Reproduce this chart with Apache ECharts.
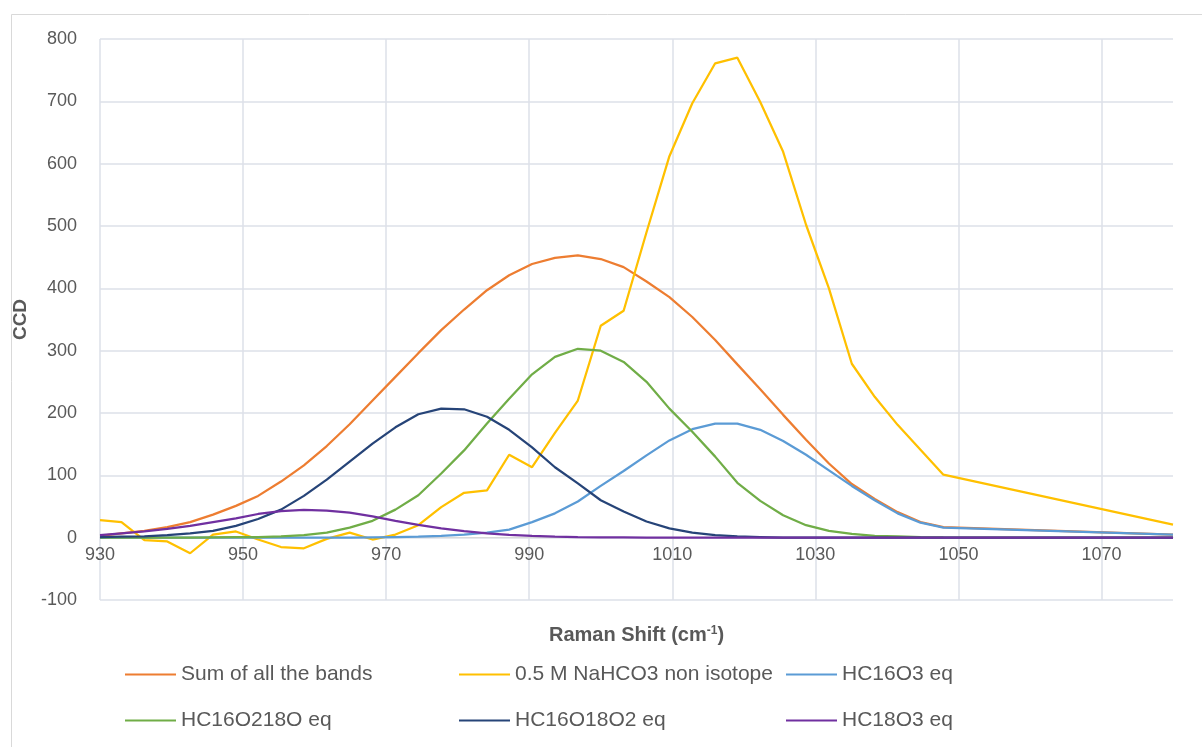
<!DOCTYPE html>
<html>
<head>
<meta charset="utf-8">
<script src="https://cdn.jsdelivr.net/npm/echarts@6/dist/echarts.min.js"></script>
<style>
html,body{margin:0;padding:0;background:#fff;}
#chart{width:1202px;height:747px;}
</style>
</head>
<body>
<div id="chart"></div>
<script>
const ramanShift = [930, 933.0, 936.2, 939.4, 942.6, 945.8, 949.0, 952.1, 955.3, 958.5, 961.7, 964.9, 968.1, 971.3, 974.5, 977.7, 980.9, 984.1, 987.2, 990.4, 993.6, 996.8, 1000.0, 1003.2, 1006.4, 1009.6, 1012.8, 1016.0, 1019.1, 1022.3, 1025.5, 1028.7, 1031.9, 1035.1, 1038.3, 1041.5, 1044.7, 1047.9, 1080];
const sumBands = [3, 7, 11, 17, 25, 37, 51, 67, 90, 116, 147, 182, 220, 258, 296, 333, 366, 397, 421, 439, 449, 453, 447, 434, 411, 386, 354, 317, 278, 238, 197, 157, 119, 86, 62, 41, 25, 17, 5];
const nahco3 = [28, 25, -4, -6, -25, 5, 10, -3, -15, -17, -2, 8, -3, 5, 20, 49, 72, 76, 133, 113, 168, 220, 340, 364, 490, 612, 697, 761, 770, 699, 619, 502, 400, 279, 226, 181, 141, 101, 21];
const hc16o3 = [0, 0, 0, 0, 0, 0, 0, 0, 0, 0, 0, 0, 0.5, 1, 1.5, 3, 5, 8, 13, 25, 39, 58, 83, 107, 132, 156, 174, 183, 183, 173, 155, 133, 108, 83, 60, 39, 24, 16, 5];
const hc16o218o = [0, 0, 0, 0, 0, 0.5, 1, 1, 2, 4, 8, 16, 27, 45, 68, 103, 140, 183, 223, 262, 290, 303, 300, 282, 250, 207, 170, 130, 88, 59, 36, 20, 11, 6, 3, 2, 1, 0.5, 0];
const hc16o18o2 = [1, 1.5, 2, 4, 7, 11, 19, 30, 45, 67, 93, 122, 151, 177, 198, 207, 206, 194, 173, 145, 113, 87, 60, 42, 26, 15, 8, 4, 2, 1, 0, 0, 0, 0, 0, 0, 0, 0, 0];
const hc18o3 = [4, 7, 10, 14, 19, 25, 31, 38, 42.5, 44.5, 43.5, 40, 34, 27, 20.5, 15, 10.6, 7, 4.5, 2.7, 1.6, 1, 0.5, 0.3, 0, 0, 0, 0, 0, 0, 0, 0, 0, 0, 0, 0, 0, 0, 0];

const xTicks = [930, 950, 970, 990, 1010, 1030, 1050, 1070];

const seriesNames = ['Sum of all the bands', '0.5 M NaHCO3 non isotope', 'HC16O3 eq', 'HC16O218O eq', 'HC16O18O2 eq', 'HC18O3 eq'];
const seriesValues = [sumBands, nahco3, hc16o3, hc16o218o, hc16o18o2, hc18o3];
const colors = ['#ED7D31', '#FFC000', '#5B9BD5', '#70AD47', '#264478', '#7030A0'];

const FONT = 'Liberation Sans, Arial, sans-serif';
const TXT = '#595959';
const GRID = '#dde1e8';

const chart = echarts.init(document.getElementById('chart'), null, {renderer: 'canvas'});

const legendPos = [[125, 664], [459, 664], [786, 664], [125, 710], [459, 710], [786, 710]];

const option = {
  animation: false,
  backgroundColor: '#ffffff',
  color: colors,
  graphic: [{
    type: 'rect', left: 9, top: 12, silent: true,
    shape: {x: 0, y: 0, width: 1300, height: 800},
    style: {fill: 'none', stroke: '#d9d9d9', lineWidth: 1}
  }],
  grid: {left: 100, right: 29, top: 39, bottom: 147, containLabel: false},
  xAxis: {
    type: 'value', min: 930, max: 1080, interval: 20,
    offset: -62.33,
    name: 'Raman Shift (cm{sup|-1})',
    nameLocation: 'middle', nameGap: 87,
    nameTextStyle: {
      fontFamily: FONT, fontSize: 20, fontWeight: 'bold', color: TXT,
      rich: {sup: {fontFamily: FONT, fontSize: 12, fontWeight: 'bold', color: TXT, verticalAlign: 'top', padding: [0, 0, 9, 0]}}
    },
    axisLine: {show: true, onZero: false, lineStyle: {color: '#d9d9d9', width: 1}},
    axisTick: {show: false, customValues: xTicks},
    axisLabel: {fontFamily: FONT, fontSize: 18, color: TXT, margin: 8, customValues: xTicks,
      formatter: v => String(v)},
    splitLine: {show: true, lineStyle: {color: GRID, width: 1.5}}
  },
  yAxis: {
    type: 'value', min: -100, max: 800, interval: 100,
    name: 'CCD', nameLocation: 'middle', nameGap: 68, nameRotate: 90,
    nameTextStyle: {fontFamily: FONT, fontSize: 19, fontWeight: 'bold', color: TXT},
    axisLine: {show: false},
    axisTick: {show: false},
    axisLabel: {fontFamily: FONT, fontSize: 18, color: TXT, margin: 23},
    splitLine: {show: true, lineStyle: {color: GRID, width: 1.5}}
  },
  legend: seriesNames.map((n, i) => ({
    data: [n], left: legendPos[i][0], top: legendPos[i][1], padding: 0,
    icon: 'rect', itemWidth: 51, itemHeight: 2, itemGap: 6,
    textStyle: {fontFamily: FONT, fontSize: 21, color: TXT}
  })),
  series: seriesNames.map((n, i) => ({
    name: n, type: 'line',
    data: ramanShift.map((x, k) => [x, seriesValues[i][k]]),
    symbol: 'none', showSymbol: false,
    lineStyle: {color: colors[i], width: 2.25},
    itemStyle: {color: colors[i]},
    z: 2 + i
  }))
};
chart.setOption(option);
</script>
</body>
</html>
